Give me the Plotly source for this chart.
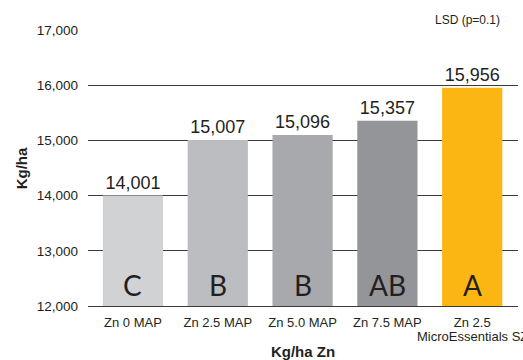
import plotly.graph_objects as go

categories = ["Zn 0 MAP", "Zn 2.5 MAP", "Zn 5.0 MAP", "Zn 7.5 MAP", "Zn 2.5"]
category_sublabels = ["", "", "", "", "MicroEssentials SZ"]
yields = [14001, 15007, 15096, 15357, 15956]
groups = ["C", "B", "B", "AB", "A"]
bar_colors = ["#d1d2d4", "#bcbdc0", "#a7a9ac", "#939598", "#fbb614"]
y_ticks = [12000, 13000, 14000, 15000, 16000, 17000]

SANS = "Liberation Sans, Arial, sans-serif"
TEXT = "#231f20"
LINE = "#3a3a3a"

x_idx = list(range(len(categories)))

fig = go.Figure()
fig.add_trace(go.Bar(
    x=x_idx,
    y=yields,
    base=0,
    marker=dict(color=bar_colors, line=dict(width=0)),
    width=0.71,
    text=[f"{v:,}" for v in yields],
    textposition="outside",
    textfont=dict(family=SANS, size=18, color=TEXT),
    cliponaxis=False,
    hoverinfo="skip",
))

# significance letters at the foot of each bar
for i, g in zip(x_idx, groups):
    fig.add_annotation(
        x=i, y=y_ticks[0], text=g, showarrow=False,
        xref="x", yref="y", yanchor="bottom", yshift=2,
        font=dict(family="Lato, Open Sans, sans-serif", size=28, color=TEXT),
    )

# second line of the category labels
for i, s in zip(x_idx, category_sublabels):
    if s:
        fig.add_annotation(
            x=i, y=0, xref="x", yref="paper", yanchor="top", yshift=-21,
            text=s, showarrow=False,
            font=dict(family=SANS, size=13, color=TEXT),
        )

fig.add_annotation(
    x=1, y=1.0, xref="paper", yref="paper", xanchor="right", yanchor="bottom",
    xshift=-16, yshift=1, text="LSD (p=0.1)", showarrow=False,
    font=dict(family=SANS, size=12, color=TEXT),
)

fig.add_annotation(
    x=-0.155, y=0.5, xref="paper", yref="paper", xanchor="center", yanchor="middle",
    text="<b>Kg/ha</b>", textangle=-90, showarrow=False,
    font=dict(family=SANS, size=15, color=TEXT),
)

fig.update_layout(
    width=523, height=360,
    margin=dict(l=88, r=5, t=30, b=54),
    paper_bgcolor="white", plot_bgcolor="white",
    showlegend=False,
    xaxis=dict(
        range=[-0.53, 4.54],
        tickmode="array", tickvals=x_idx, ticktext=categories,
        tickfont=dict(family=SANS, size=13, color=TEXT),
        ticklabelstandoff=4, ticklabeloverflow="allow",
        showgrid=False, zeroline=False, ticks="",
        showline=True, linecolor=LINE, linewidth=1.2,
        automargin=False,
        title=dict(text="<b>Kg/ha Zn</b>", standoff=18,
                   font=dict(family=SANS, size=15, color=TEXT)),
    ),
    yaxis=dict(
        range=[12000, 17000],
        tickmode="array", tickvals=y_ticks,
        ticktext=[f"{v:,}" for v in y_ticks],
        tickfont=dict(family=SANS, size=13.5, color=TEXT),
        showgrid=True, gridcolor=LINE, gridwidth=1.2,
        zeroline=False, showline=False, ticks="",
        ticklabelstandoff=9, automargin=False,
        layer="below traces",
    ),
)

fig.write_html("out.html")
